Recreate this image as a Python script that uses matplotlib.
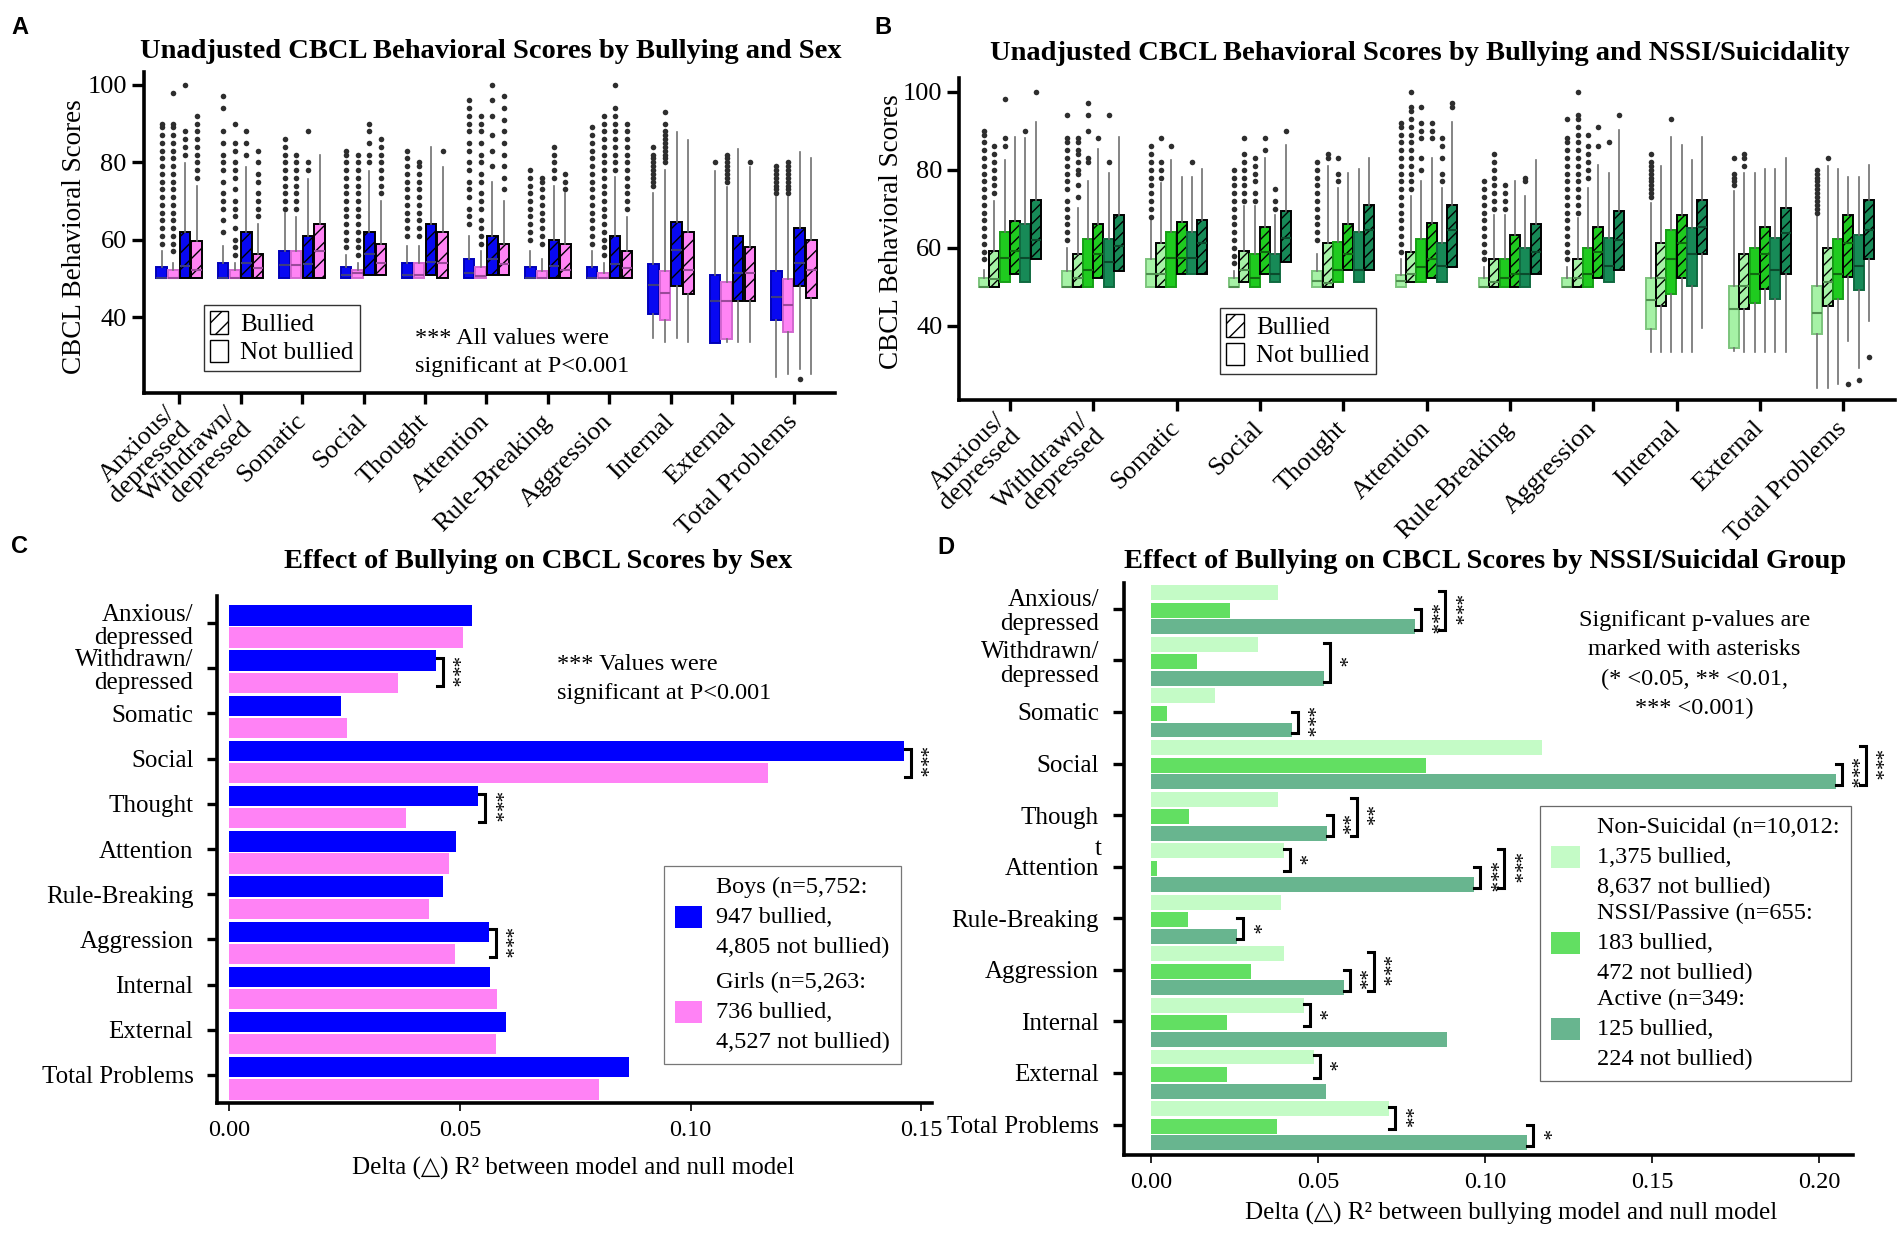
import numpy as np
import matplotlib
matplotlib.use('Agg')
import matplotlib.pyplot as plt
from matplotlib.patches import Patch

plt.rcParams['font.family'] = ['Liberation Serif', 'DejaVu Sans']
plt.rcParams['hatch.linewidth'] = 1.0

# ---- categories ----
cat_box = ['Anxious/\ndepressed', 'Withdrawn/\ndepressed', 'Somatic', 'Social', 'Thought',
           'Attention', 'Rule-Breaking', 'Aggression', 'Internal', 'External', 'Total Problems']
cat_c = ['Anxious/\ndepressed', 'Withdrawn/\ndepressed', 'Somatic', 'Social', 'Thought',
         'Attention', 'Rule-Breaking', 'Aggression', 'Internal', 'External', 'Total Problems']
cat_d = ['Anxious/\ndepressed', 'Withdrawn/\ndepressed', 'Somatic', 'Social', 'Though',
         'Attention', 'Rule-Breaking', 'Aggression', 'Internal', 'External', 'Total Problems']

# ---- panel A: box stats per category, rows = [q1, median, q3, whisker low, whisker high] ----
boys_nb = [[50, 50, 52.9, 50, 57], [50, 50, 54, 50, 58.3], [50, 53.4, 57, 50, 66.8],
           [50, 51, 52.9, 50, 56], [50, 51, 54, 50, 58.3], [50, 51.3, 55, 50, 61],
           [50, 50, 52.9, 50, 57], [50, 50, 52.9, 50, 57], [40.9, 48.2, 53.8, 34.5, 72],
           [33.2, 44.2, 51, 33.2, 77.7], [39.2, 45.3, 52, 24.5, 71.1]]
girls_nb = [[50, 50, 52.1, 50, 54], [50, 50, 52.1, 50, 54], [50, 53.4, 57, 50, 65.8],
            [50, 51.3, 52.1, 50, 54], [50, 51, 54, 50, 58.3], [50, 50.5, 52.9, 50, 57],
            [50, 50, 52, 50, 55], [50, 50, 51.3, 50, 54], [39.2, 46.3, 52, 33.5, 78],
            [34.4, 44.2, 49.1, 33.5, 73.5], [36.1, 43.1, 49.9, 25.4, 71.1]]
boys_b = [[50, 53.2, 62, 50, 79.8], [50, 54, 62.1, 50, 78.8], [50, 53.6, 60.9, 50, 75.8],
          [51, 56.2, 62.1, 51, 77.7], [51, 54.3, 64.1, 51, 83.9], [51, 55, 60.9, 51, 75],
          [50, 53.2, 60, 50, 73.8], [50, 53.6, 60.9, 50, 76.2], [48, 57.4, 64.7, 34.5, 87.8],
          [44.2, 51.3, 60.9, 33.5, 83.5], [48, 54, 63, 26.7, 82.6]]
girls_b = [[50, 52.1, 59.7, 50, 73.8], [50, 52.7, 56.2, 50, 64.1], [50, 57, 64.1, 50, 82],
           [51, 54, 58.9, 51, 70.1], [50, 54, 62.1, 50, 78.8], [51, 53.6, 58.9, 51, 70],
           [50, 52.3, 58.9, 50, 72], [50, 52.7, 57, 50, 65.8], [46, 52.3, 61.9, 33.5, 85.8],
           [44.2, 51.3, 58.1, 33.5, 78.8], [45, 52.3, 60, 25.4, 81]]

boys_nb_fl = [[59, 61, 63, 65, 67, 69, 71, 73, 75, 77, 79, 81, 83, 85, 87, 89, 90],
              [62, 65, 68, 70, 72, 75, 78, 80, 82, 85, 88, 94, 97],
              [68, 70, 72, 74, 76, 78, 80, 82, 84, 86],
              [58, 60, 62, 64, 66, 68, 70, 72, 74, 76, 78, 80, 82, 83],
              [61, 63, 65, 67, 69, 71, 73, 75, 77, 79, 81, 83],
              [64, 66, 68, 71, 73, 75, 78, 80, 83, 85, 88, 90, 92, 94, 96],
              [60, 62, 64, 66, 68, 70, 72, 74, 76, 78],
              [59, 61, 63, 65, 67, 69, 71, 73, 75, 77, 79, 81, 83, 85, 87, 89],
              [74, 75, 76, 77, 78, 79, 80, 81, 82, 84],
              [80],
              [72, 73, 74, 75, 76, 77, 78, 79]]
girls_nb_fl = [[57, 59, 61, 63, 65, 67, 69, 71, 73, 75, 77, 79, 81, 83, 85, 87, 89, 90, 98],
               [56, 58, 60, 63, 66, 68, 70, 73, 76, 78, 80, 83, 85, 90],
               [68, 70, 72, 74, 76, 78, 80, 82],
               [56, 58, 60, 62, 64, 66, 68, 70, 72, 74, 76, 78, 80, 82],
               [61, 63, 65, 67, 69, 71, 73, 75, 77, 79, 80],
               [59, 61, 63, 65, 68, 70, 72, 75, 77, 80, 82, 85, 88, 90, 92],
               [59, 61, 63, 65, 67, 69, 71, 73, 75, 76],
               [56, 58, 60, 62, 64, 66, 68, 70, 72, 74, 76, 78, 80, 82, 84, 86, 88, 90, 92],
               [80, 81, 82, 83, 84, 85, 86, 87, 88, 90, 93],
               [75, 76, 77, 78, 79, 80, 81, 82],
               [72, 73, 74, 75, 76, 77, 78, 79, 80]]
boys_b_fl = [[82, 84, 86, 88, 100], [82, 85, 88], [78, 80, 88], [80, 82, 85, 88, 90], [],
             [79, 83, 87, 92, 96, 100], [76, 78, 80, 82, 84],
             [78, 80, 82, 84, 86, 88, 90, 92, 94, 100], [], [], [24]]
girls_b_fl = [[76, 78, 80, 82, 84, 86, 88, 90, 92], [66, 68, 70, 72, 75, 77, 80, 83], [],
              [72, 74, 76, 78, 80, 82, 84, 86], [83], [73, 76, 79, 82, 85, 88, 91, 94, 97],
              [73, 75, 77], [68, 70, 72, 74, 76, 78, 80, 82, 84, 86, 88, 90], [], [80], []]

# ---- panel B ----
ns_nb = [[50, 50, 52.3, 50, 54.2], [50, 50, 54, 50, 60], [50, 53.2, 57.2, 50, 67.2],
         [50, 50, 52.3, 50, 54], [50, 51.5, 54, 50, 58.4], [50, 51.5, 52.9, 50, 57.2],
         [50, 50, 52.3, 50, 55.1], [50, 50, 52.3, 50, 55.1], [39.1, 46.5, 52.3, 33.4, 71.5],
         [34.2, 44.3, 50.2, 33.5, 74.5], [38, 43.2, 50.2, 24.2, 68.4]]
ns_b = [[50, 52, 59.2, 50, 72], [50, 52.3, 58.4, 50, 70.3], [50, 53.2, 61.3, 50, 76.5],
        [51.2, 54.2, 59.2, 51.2, 70.6], [50, 51, 61.3, 50, 81], [51.2, 53.2, 59, 51.2, 73.2],
        [50, 51.2, 57.2, 50, 68.4], [50, 52.3, 57.2, 50, 67.6], [45.2, 52.3, 61.3, 33.4, 81],
        [44.3, 50.2, 58.4, 33.4, 79.2], [45.2, 51.2, 60, 24.2, 81]]
nssi_nb = [[51.2, 57.5, 64.1, 51.2, 82.5], [50, 54.4, 62.2, 50, 77], [50, 57.5, 64.1, 50, 82.5],
           [50, 52.3, 58.4, 50, 70.6], [51.2, 54.4, 61.5, 51.2, 75.3], [51.2, 55, 62.2, 51.2, 77],
           [50, 52.3, 57.2, 50, 68.4], [50, 53.2, 60, 50, 75.3], [48.2, 57.2, 64.6, 33.4, 88.3],
           [45.8, 53.2, 60, 33.4, 79.2], [46.9, 53.2, 62.2, 25.1, 80.3]]
nssi_b = [[53.4, 59.2, 66.9, 53.4, 88.4], [52.3, 58.4, 66.1, 52.3, 85.3], [53.2, 57.5, 66.7, 53.2, 78.2],
          [53.2, 59, 65.2, 53.2, 83.1], [54.2, 58.5, 66.1, 54.2, 79.2], [52.3, 57.2, 66.3, 52.3, 83],
          [50, 53.4, 63.3, 50, 77], [52.3, 59, 65.2, 52.3, 81.1], [52.3, 61.3, 68.3, 33.4, 86.3],
          [49.5, 58.4, 65.2, 33.4, 80.3], [52.5, 61.1, 68.3, 36.1, 78.2]]
act_nb = [[51.2, 57.5, 66.1, 51.2, 88], [50, 56.4, 62.2, 50, 79.2], [53.2, 57.5, 64.1, 53.2, 78.2],
          [51.2, 53.2, 58.4, 51.2, 68.4], [51.2, 54.4, 64.1, 51.2, 80.3], [51.2, 55.3, 61.3, 51.2, 75.3],
          [50, 53.4, 60, 50, 73.2], [51.2, 55.3, 62.4, 51.2, 79.2], [50.2, 58.5, 65, 33.4, 82.4],
          [46.9, 54.2, 62.4, 33.4, 80.3], [49.1, 55.3, 63.3, 29.2, 78.2]]
act_b = [[57.2, 62, 72.3, 57.2, 92.3], [54, 60.5, 68.3, 54, 88.3], [53.2, 61.3, 67, 53.2, 80.3],
         [56.4, 62.4, 69.3, 56.4, 86.3], [54.2, 64.6, 71, 54.2, 83], [55.1, 64.6, 71, 55.1, 92.3],
         [53.2, 59, 66.1, 53.2, 82.4], [54.2, 62, 69.3, 54.2, 90.3], [58.4, 65.4, 72.2, 39.4, 88.3],
         [53.2, 63.7, 70.3, 33.4, 83.1], [57.2, 64.6, 72.2, 41.3, 81.1]]

ns_nb_fl = [[57, 59, 61, 63, 65, 67, 69, 71, 73, 75, 77, 79, 81, 83, 85, 87, 89, 90],
            [62, 64, 66, 68, 70, 72, 75, 77, 79, 81, 83, 85, 87, 88, 94],
            [68, 70, 72, 74, 76, 78, 80, 82, 84, 86],
            [56, 58, 60, 62, 64, 66, 68, 70, 72, 74, 76, 78, 80],
            [62, 64, 66, 68, 70, 72, 74, 76, 78, 80, 82],
            [59, 61, 63, 65, 67, 69, 71, 73, 75, 77, 79, 81, 83, 85, 87, 89, 91, 92],
            [57, 59, 61, 63, 65, 67, 69, 71, 73, 75, 77],
            [57, 59, 61, 63, 65, 67, 69, 71, 73, 75, 77, 79, 81, 83, 85, 87, 88, 93],
            [73, 74, 75, 76, 77, 78, 79, 80, 81, 82, 84],
            [76, 77, 78, 79, 83],
            [69, 70, 71, 72, 73, 74, 75, 76, 77, 78, 79, 80]]
ns_b_fl = [[74, 76, 78, 80, 82, 84, 86], [73, 76, 79, 80, 82, 84, 85, 87, 88], [78, 80, 82, 88],
           [72, 74, 76, 78, 80, 82, 84, 88], [83, 84],
           [75, 77, 79, 81, 83, 85, 87, 89, 91, 93, 95, 96, 100],
           [70, 72, 74, 76, 78, 80, 82, 84],
           [69, 71, 73, 75, 77, 79, 81, 83, 85, 87, 89, 91, 93, 94, 100],
           [], [81, 83, 84], [83]]
nssi_nb_fl = [[86, 88, 98], [82, 83, 90, 94, 97], [86], [72, 74, 77, 79, 81, 83], [77, 79, 83],
              [80, 83, 88, 90, 92, 96], [70, 72, 74, 76], [78, 80, 82, 84, 86, 89], [93], [], []]
nssi_b_fl = [[], [88], [], [85, 88], [], [88, 90, 92], [], [86, 91], [], [], [25]]
act_nb_fl = [[90], [82, 94], [82], [70, 72, 75], [], [77, 79, 83, 86, 88], [77, 78], [87], [], [], [26]]
act_b_fl = [[100], [], [], [90], [], [96, 97], [], [94], [], [], [32]]

# ---- panel C: delta R2 ----
c_boys = [0.0525, 0.0447, 0.0242, 0.1462, 0.0539, 0.0492, 0.0464, 0.0562, 0.0564, 0.0600, 0.0866]
c_girls = [0.0507, 0.0366, 0.0254, 0.1167, 0.0383, 0.0476, 0.0433, 0.0489, 0.0581, 0.0577, 0.0802]
c_sig = [(1, '***'), (3, '***'), (4, '***'), (7, '***')]
c_labels = ['Boys (n=5,752:\n947 bullied,\n4,805 not bullied)',
            'Girls (n=5,263:\n736 bullied,\n4,527 not bullied)']

# ---- panel D ----
d_ns = [0.038, 0.032, 0.0192, 0.117, 0.038, 0.0396, 0.0388, 0.0398, 0.0456, 0.0487, 0.0712]
d_nssi = [0.0236, 0.0137, 0.0046, 0.0822, 0.0114, 0.0017, 0.0111, 0.0299, 0.0226, 0.0226, 0.0375]
d_act = [0.079, 0.0517, 0.042, 0.205, 0.0525, 0.0968, 0.0258, 0.0576, 0.0885, 0.0522, 0.1126]
# (category, first bar, last bar, stars, outer bracket)
d_sig = [(0, 1, 2, '***', 0), (0, 0, 2, '***', 1), (1, 0, 2, '*', 0), (2, 1, 2, '***', 0),
         (3, 1, 2, '***', 0), (3, 0, 2, '***', 1), (4, 1, 2, '**', 0), (4, 0, 2, '**', 1),
         (5, 0, 1, '*', 0), (5, 1, 2, '***', 0), (5, 0, 2, '***', 1), (6, 1, 2, '*', 0),
         (7, 1, 2, '**', 0), (7, 0, 2, '***', 1), (8, 0, 1, '*', 0), (9, 0, 1, '*', 0),
         (10, 0, 1, '**', 0), (10, 1, 2, '*', 0)]
d_labels = ['Non-Suicidal (n=10,012:\n1,375 bullied,\n8,637 not bullied)',
            'NSSI/Passive (n=655:\n183 bullied,\n472 not bullied)',
            'Active (n=349:\n125 bullied,\n224 not bullied)']

W, H = 1904, 1233
fig = plt.figure(figsize=(W / 100, H / 100), dpi=100)


def px_axes(l, t, r, b):
    return fig.add_axes([l / W, 1 - b / H, (r - l) / W, (b - t) / H])


def ftext(x, y, s, **kw):
    fig.text(x / W, 1 - y / H, s, **kw)


def style(ax):
    for s in ['top', 'right']:
        ax.spines[s].set_visible(False)
    for s in ['left', 'bottom']:
        ax.spines[s].set_linewidth(2.6)
    ax.tick_params(width=2.4, length=7, direction='out')


def draw_boxes(ax, rows, fliers, offset, width, face, edge, median, hatch=None):
    stats = [dict(q1=r[0], med=r[1], q3=r[2], whislo=r[3], whishi=r[4], fliers=f)
             for r, f in zip(rows, fliers)]
    pos = np.arange(len(rows)) + offset
    ax.bxp(stats, positions=pos, widths=width, patch_artist=True, showcaps=False,
           manage_ticks=False,
           boxprops=dict(facecolor=face, edgecolor=edge, linewidth=1.4, hatch=hatch),
           whiskerprops=dict(color='#707070', linewidth=1.2),
           medianprops=dict(color=median, linewidth=1.5),
           flierprops=dict(marker='o', markersize=4, markerfacecolor='#2e2e2e',
                           markeredgecolor='none'))


def box_axes(ax, ylim, xlim):
    style(ax)
    ax.set_xlim(*xlim)
    ax.set_ylim(*ylim)
    ax.set_yticks([40, 60, 80, 100])
    ax.set_yticklabels(['40', '60', '80', '100'], fontsize=19)
    ax.set_xticks(range(len(cat_box)))
    ax.set_xticklabels(cat_box, rotation=45, ha='right', va='center',
                       rotation_mode='anchor', fontsize=19, linespacing=0.95)
    ax.tick_params(axis='x', pad=10, length=8)
    ax.tick_params(axis='y', pad=3, length=9)


def set_legend_lines(leg, spacing):
    leg.get_frame().set_linewidth(0.9)
    for t in leg.get_texts():
        t.set_linespacing(spacing)


# ================= Panel A =================
blue, pink = '#0808F2', '#FF84F4'
axA = px_axes(143.5, 71.7, 835, 393)
box_axes(axA, (20.4, 103.4), (-0.58, 10.67))
offs_a = [-0.285, -0.095, 0.095, 0.285]
wa = 0.17
draw_boxes(axA, boys_nb, boys_nb_fl, offs_a[0], wa, blue, '#0000B8', '#3c3c80')
draw_boxes(axA, girls_nb, girls_nb_fl, offs_a[1], wa, pink, '#d268d0', '#9a4a9a')
draw_boxes(axA, boys_b, boys_b_fl, offs_a[2], wa, blue, 'black', '#3c3c80', '//')
draw_boxes(axA, girls_b, girls_b_fl, offs_a[3], wa, pink, 'black', '#9a4a9a', '//')

hatch_handles = [Patch(facecolor='white', edgecolor='black', hatch='//'),
                 Patch(facecolor='white', edgecolor='black')]
legA = axA.legend(hatch_handles, ['Bullied', 'Not bullied'], loc='upper left',
                  bbox_to_anchor=(0.0875, 0.274), fontsize=18, fancybox=False,
                  edgecolor='black', handlelength=0.7, handleheight=1.0,
                  handletextpad=0.5, borderpad=0.25, labelspacing=0.15, borderaxespad=0)
legA.get_frame().set_linewidth(1.0)
ftext(415, 352.5, '*** All values were\nsignificant at P<0.001', fontsize=17.5,
      ha='left', va='center', linespacing=1.42)
ftext(75, 237, 'CBCL Behavioral Scores', fontsize=19.5, rotation=90, ha='center', va='center')
ftext(491, 52, 'Unadjusted CBCL Behavioral Scores by Bullying and Sex', fontsize=20.5,
      fontweight='bold', ha='center', va='center')

# ================= Panel B =================
g_light, g_med, g_dark = '#A6F2A6', '#1FCB1F', '#178A57'
axB = px_axes(959, 78, 1895, 400)
box_axes(axB, (21, 103.5), (-0.61, 10.62))
offs_b = [-0.31, -0.186, -0.062, 0.062, 0.186, 0.31]
wb = 0.12
draw_boxes(axB, ns_nb, ns_nb_fl, offs_b[0], wb, g_light, '#7cc47c', '#4f8f4f')
draw_boxes(axB, ns_b, ns_b_fl, offs_b[1], wb, g_light, 'black', '#4f8f4f', '///')
draw_boxes(axB, nssi_nb, nssi_nb_fl, offs_b[2], wb, g_med, '#16a016', '#0f6a0f')
draw_boxes(axB, nssi_b, nssi_b_fl, offs_b[3], wb, g_med, 'black', '#0f6a0f', '///')
draw_boxes(axB, act_nb, act_nb_fl, offs_b[4], wb, g_dark, '#106a40', '#0b4a2c')
draw_boxes(axB, act_b, act_b_fl, offs_b[5], wb, g_dark, 'black', '#0b4a2c', '///')
legB = axB.legend(hatch_handles, ['Bullied', 'Not bullied'], loc='upper left',
                  bbox_to_anchor=(0.279, 0.286), fontsize=18, fancybox=False,
                  edgecolor='black', handlelength=0.7, handleheight=1.0,
                  handletextpad=0.5, borderpad=0.25, labelspacing=0.15, borderaxespad=0)
legB.get_frame().set_linewidth(1.0)
ftext(891, 232, 'CBCL Behavioral Scores', fontsize=19.5, rotation=90, ha='center', va='center')
ftext(1420, 53, 'Unadjusted CBCL Behavioral Scores by Bullying and NSSI/Suicidality',
      fontsize=20.5, fontweight='bold', ha='center', va='center')


def bracket(ax, x, y0, y1, stars, px_unit, tick_px=6, star_px=7):
    t = tick_px / px_unit
    ax.plot([x - t, x, x, x - t], [y0, y0, y1, y1], color='black', lw=2.2,
            solid_joinstyle='miter', clip_on=False)
    ax.text(x + star_px / px_unit, (y0 + y1) / 2, stars, rotation=-90, fontsize=15,
            ha='center', va='center')


# ================= Panel C =================
idx = np.arange(len(cat_c))
axC = px_axes(217, 596, 932, 1103)
style(axC)
axC.barh(idx - 0.17, c_boys, height=0.45, color='#0000FF')
axC.barh(idx + 0.32, c_girls, height=0.45, color='#FF82F5')
axC.set_xlim(-0.0027, 0.1523)
axC.set_ylim(10.62, -0.6)
axC.set_yticks(idx)
axC.set_yticklabels(cat_c, fontsize=18, linespacing=1.1)
axC.set_xticks([0, 0.05, 0.10, 0.15])
axC.set_xticklabels(['0.00', '0.05', '0.10', '0.15'], fontsize=17.5)
axC.tick_params(axis='y', length=7, pad=10)
axC.tick_params(axis='x', length=6, width=1.2, pad=6)
c_px = 4614
for k, st in c_sig:
    x = max(c_boys[k], c_girls[k]) + 7 / c_px
    bracket(axC, x, k - 0.22, k + 0.40, st, c_px)
legC = axC.legend([Patch(facecolor='#0000FF'), Patch(facecolor='#FF82F5')], c_labels,
                  loc='upper left', bbox_to_anchor=(0.625, 0.467), fontsize=17.5,
                  fancybox=False, edgecolor='#555555', handlelength=1.1, handleheight=1.0,
                  handletextpad=0.6, borderpad=0.45, labelspacing=0.55, borderaxespad=0)
set_legend_lines(legC, 1.55)
ftext(557, 679, '*** Values were\nsignificant at P<0.001', fontsize=17.5, ha='left',
      va='center', linespacing=1.55)
ftext(573, 1168, 'Delta (△) R² between model and null model', fontsize=18,
      ha='center', va='center')
ftext(538, 561, 'Effect of Bullying on CBCL Scores by Sex', fontsize=20.5,
      fontweight='bold', ha='center', va='center')

# ================= Panel D =================
d_light, d_med, d_dark = '#C4FBC6', '#62DF62', '#68B58F'
axD = px_axes(1124, 583, 1853, 1155)
style(axD)
d_offs = [-0.31, 0.03, 0.35]
d_series = [d_ns, d_nssi, d_act]
for vals, off, col in zip(d_series, d_offs, [d_light, d_med, d_dark]):
    axD.barh(idx + off, vals, height=0.29, color=col)
axD.set_xlim(-0.0082, 0.2102)
axD.set_ylim(10.59, -0.5)
axD.set_yticks(idx)
axD.set_yticklabels(cat_d, fontsize=18, linespacing=1.1)
axD.set_xticks([0, 0.05, 0.10, 0.15, 0.20])
axD.set_xticklabels(['0.00', '0.05', '0.10', '0.15', '0.20'], fontsize=17.5)
axD.tick_params(axis='y', length=8, pad=10)
axD.tick_params(axis='x', length=6, width=1.2, pad=6)
axD.text(-0.031, 4.66, 't', transform=axD.get_yaxis_transform(), fontsize=18,
         ha='right', va='center')
d_px = 3337
for k, a, b, st, outer in d_sig:
    x = max(d_series[j][k] for j in range(a, b + 1)) + 6 / d_px + outer * 24 / d_px
    bracket(axD, x, k + d_offs[a] - 0.03, k + d_offs[b] + 0.06, st, d_px)
legD = axD.legend([Patch(facecolor=d_light), Patch(facecolor=d_med), Patch(facecolor=d_dark)],
                  d_labels, loc='upper left', bbox_to_anchor=(0.5706, 0.6101), fontsize=17.5,
                  fancybox=False, edgecolor='#444444', handlelength=1.2, handleheight=1.0,
                  handletextpad=0.7, borderpad=0.45, labelspacing=0.2, borderaxespad=0)
set_legend_lines(legD, 1.55)
ftext(1694.6, 664.5, 'Significant p-values are\nmarked with asterisks\n(* <0.05, ** <0.01,\n*** <0.001)',
      fontsize=17.5, ha='center', va='center', linespacing=1.52)
ftext(1511, 1213, 'Delta (△) R² between bullying model and null model', fontsize=18,
      ha='center', va='center')
ftext(1485, 561, 'Effect of Bullying on CBCL Scores by NSSI/Suicidal Group', fontsize=20.5,
      fontweight='bold', ha='center', va='center')

# panel letters
for letter, x, y in [('A', 20, 27), ('B', 883, 28), ('C', 19, 547), ('D', 946, 548)]:
    ftext(x, y, letter, fontsize=17, fontweight='bold', family='Liberation Sans',
          ha='center', va='center')

fig.savefig('out.png', dpi=100)
